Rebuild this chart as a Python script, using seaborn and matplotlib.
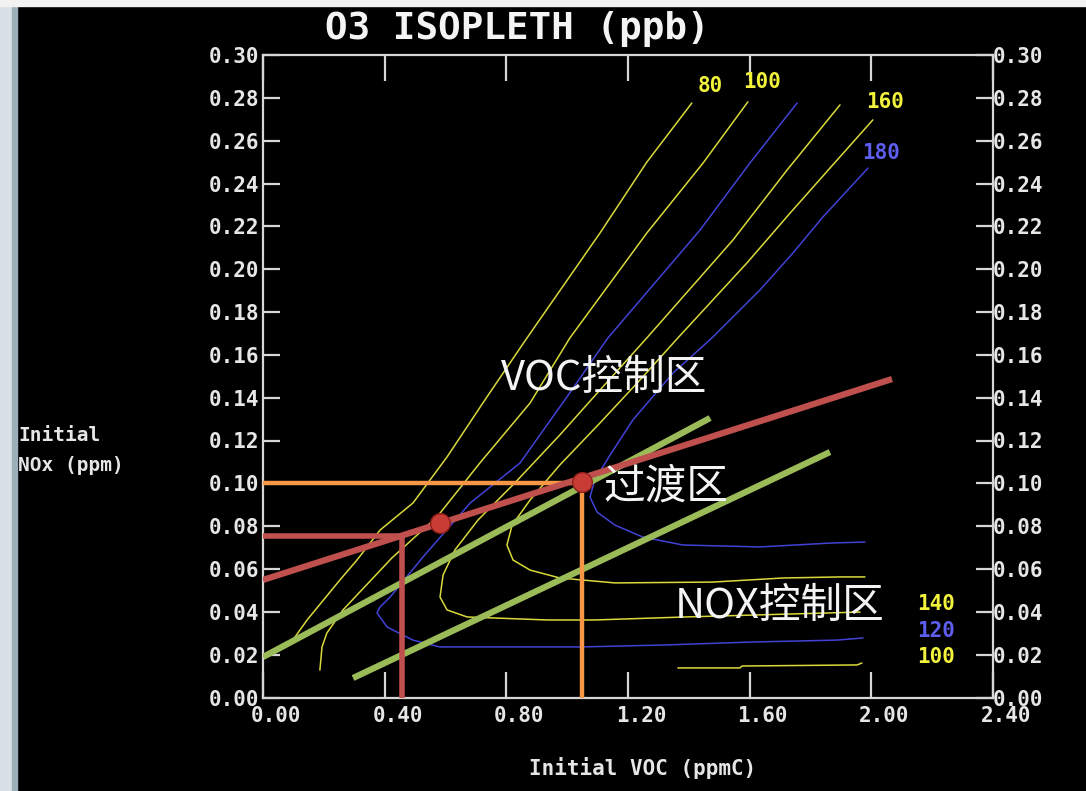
import matplotlib
matplotlib.use("Agg")
import matplotlib.pyplot as plt
import matplotlib.transforms as mtransforms
from matplotlib.patches import Rectangle
import numpy as np
import pandas as pd
import seaborn as sns

# isopleth traces: initial VOC (ppmC) vs initial NOx (ppm)
iso80_voc = [1.410, 1.262, 1.108, 0.868, 0.736, 0.605, 0.493, 0.385, 0.309, 0.253, 0.145, 0.105, 0.099]
iso80_nox = [0.2776, 0.2500, 0.2169, 0.1679, 0.1403, 0.1123, 0.0908, 0.0782, 0.0642, 0.0549, 0.0362, 0.0282, 0.0259]

iso100_voc = [1.594, 1.447, 1.262, 1.009, 0.878, 0.713, 0.572, 0.424, 0.263, 0.210, 0.194, 0.187]
iso100_nox = [0.2781, 0.2496, 0.2169, 0.1679, 0.1375, 0.1095, 0.0843, 0.0652, 0.0409, 0.0301, 0.0236, 0.0128]

iso100_low_voc = [1.364, 1.568, 1.575, 1.953, 1.969]
iso100_low_nox = [0.0138, 0.0138, 0.0147, 0.0152, 0.0161]

iso120_voc = [1.756, 1.601, 1.437, 1.134, 0.999, 0.845, 0.681, 0.526, 0.418, 0.385, 0.375, 0.408, 0.493,
              0.582, 1.042, 1.315, 1.608, 1.887, 1.973]
iso120_nox = [0.2776, 0.2496, 0.2183, 0.1679, 0.1403, 0.1095, 0.0908, 0.0656, 0.0469, 0.0423, 0.0395, 0.0329,
              0.0268, 0.0236, 0.0236, 0.0245, 0.0259, 0.0268, 0.0278]

iso140_voc = [1.897, 1.723, 1.545, 1.262, 1.108, 0.976, 0.828, 0.707, 0.631, 0.592, 0.582, 0.605, 0.671,
              0.934, 1.091, 1.387, 1.963]
iso140_nox = [0.2767, 0.2463, 0.2136, 0.1679, 0.1436, 0.1226, 0.1002, 0.0829, 0.0689, 0.0572, 0.0469, 0.0409,
              0.0376, 0.0362, 0.0362, 0.0376, 0.0399]

iso160_voc = [2.005, 1.864, 1.733, 1.591, 1.364, 1.239, 1.108, 0.976, 0.878, 0.819, 0.802, 0.822, 0.878,
              0.976, 1.157, 1.479, 1.710, 1.897, 1.979]
iso160_nox = [0.2697, 0.2472, 0.2262, 0.2029, 0.1679, 0.1482, 0.1282, 0.1086, 0.0922, 0.0805, 0.0712, 0.0642,
              0.0595, 0.0558, 0.0535, 0.0539, 0.0558, 0.0563, 0.0563]

iso180_voc = [1.989, 1.841, 1.742, 1.634, 1.476, 1.348, 1.216, 1.141, 1.091, 1.075, 1.098, 1.157, 1.249,
              1.381, 1.634, 1.864, 1.979]
iso180_nox = [0.2472, 0.2244, 0.2075, 0.1903, 0.1679, 0.1515, 0.1296, 0.1132, 0.1016, 0.0936, 0.0866, 0.0805,
              0.0749, 0.0712, 0.0703, 0.0721, 0.0726]

# contour labels
label_text = ["80", "100", "160", "180", "140", "120", "100"]
label_voc = [1.470, 1.641, 2.045, 2.032, 2.213, 2.213, 2.213]
label_nox = [0.2855, 0.2874, 0.2781, 0.2542, 0.0437, 0.0310, 0.0189]
label_kind = ["y", "y", "y", "b", "y", "b", "y"]

# annotation lines drawn over the isopleths
ridge_voc = [0.0, 2.068]
ridge_nox = [0.0549, 0.1487]
green1_voc = [0.0, 1.470]
green1_nox = [0.0189, 0.1305]
green2_voc = [0.296, 1.864]
green2_nox = [0.0091, 0.1146]
red_h_voc = [0.0, 0.457]
red_h_nox = [0.0754, 0.0754]
red_v_voc = [0.457, 0.457]
red_v_nox = [0.0, 0.0754]
orange_h_voc = [0.0, 1.049]
orange_h_nox = [0.1002, 0.1002]
orange_v_voc = [1.049, 1.049]
orange_v_nox = [0.0, 0.1002]
dot_voc = [0.582, 1.049]
dot_nox = [0.0815, 0.1006]

region_text = ["VOC控制区", "过渡区", "NOX控制区"]
region_voc = [1.123, 1.325, 1.700]
region_nox = [0.1492, 0.0983, 0.0423]

xticks = [0.0, 0.4, 0.8, 1.2, 1.6, 2.0, 2.4]
yticks = [0.00, 0.02, 0.04, 0.06, 0.08, 0.10, 0.12, 0.14, 0.16, 0.18, 0.20, 0.22, 0.24, 0.26, 0.28, 0.30]

sns.set_theme(style="ticks")
plt.rcParams['font.family'] = ['DejaVu Sans Mono', 'DejaVu Sans']
plt.rcParams['font.weight'] = 'bold'

YEL = '#D9D93A'
BLU = '#4242D6'
WHITE = '#E6E6E6'

fig = plt.figure(figsize=(10.86, 7.91), dpi=100, facecolor='black')
fig.patches.append(Rectangle((0, 0), 0.0125, 1, transform=fig.transFigure, color='#D8E0E6', zorder=0))
fig.patches.append(Rectangle((0.0115, 0), 0.0045, 1, transform=fig.transFigure, color='#9DAEBB', zorder=0))
fig.patches.append(Rectangle((0, 1 - 6 / 791), 1, 6 / 791, transform=fig.transFigure, color='#F2F2F2', zorder=0))

ax = fig.add_axes([263 / 1086, 93.5 / 791, 730 / 1086, 642.5 / 791])
ax.set_facecolor('black')

isopleths = [
    (iso80_voc, iso80_nox, YEL),
    (iso100_voc, iso100_nox, YEL),
    (iso100_low_voc, iso100_low_nox, YEL),
    (iso120_voc, iso120_nox, BLU),
    (iso140_voc, iso140_nox, YEL),
    (iso160_voc, iso160_nox, YEL),
    (iso180_voc, iso180_nox, BLU),
]
for vx, ny, col in isopleths:
    df = pd.DataFrame({'voc': vx, 'nox': ny})
    sns.lineplot(data=df, x='voc', y='nox', ax=ax, sort=False, estimator=None,
                 color=col, linewidth=1.1, zorder=2)

for t, vx, ny, k in zip(label_text, label_voc, label_nox, label_kind):
    ax.text(vx, ny, t, color='#F2F23C' if k == 'y' else '#5E5EF0', fontsize=15,
            fontweight='bold', ha='center', va='center', zorder=6)


def seg(xs, ys, color, lw, z):
    sns.lineplot(x=xs, y=ys, ax=ax, sort=False, estimator=None, color=color,
                 linewidth=lw, zorder=z, solid_capstyle='butt')


seg(green1_voc, green1_nox, '#9BBB59', 4.5, 3)
seg(green2_voc, green2_nox, '#9BBB59', 4.5, 3)
seg(orange_h_voc, orange_h_nox, '#F79646', 3.2, 3.5)
seg(orange_v_voc, orange_v_nox, '#F79646', 3.2, 3.5)
seg(ridge_voc, ridge_nox, '#C0504D', 4.5, 4)
seg(red_h_voc, red_h_nox, '#C0504D', 4.0, 4)
seg(red_v_voc, red_v_nox, '#C0504D', 4.0, 4)
sns.scatterplot(x=dot_voc, y=dot_nox, ax=ax, s=200, color='#C83C36', edgecolor='#8E1F1B',
                linewidth=1.0, zorder=5)

for t, vx, ny in zip(region_text, region_voc, region_nox):
    ax.text(vx, ny, t, family=['Noto Sans CJK SC', 'DejaVu Sans'], fontweight='normal',
            fontsize=30, color='#F4F4F4', ha='center', va='center', zorder=6)

ax.set_xlim(0, 2.4)
ax.set_ylim(0, 0.30)
ax.set_xticks(xticks)
ax.set_xticklabels([f'{v:.2f}' for v in xticks])
ax.set_yticks(yticks)
ax.set_yticklabels([f'{v:.2f}' for v in yticks])

for sp in ax.spines.values():
    sp.set_visible(True)
    sp.set_color('#D6D6D6')
    sp.set_linewidth(1.6)

ax.tick_params(axis='y', direction='in', length=12, width=1.6, color='#D6D6D6', labelcolor=WHITE,
               labelsize=15, left=True, right=True, labelleft=True, labelright=True, pad=3)
ax.tick_params(axis='x', direction='in', length=19, width=1.6, color='#D6D6D6', labelcolor=WHITE,
               labelsize=15, bottom=True, top=True, labeltop=False, pad=6)

shift_x = mtransforms.ScaledTranslation(0.13, 0, fig.dpi_scale_trans)
for lab in ax.get_xticklabels():
    lab.set_transform(lab.get_transform() + shift_x)
shift_r = mtransforms.ScaledTranslation(-0.04, 0, fig.dpi_scale_trans)
for tk in ax.yaxis.get_major_ticks():
    tk.label2.set_transform(tk.label2.get_transform() + shift_r)

ax.set_xlabel('Initial VOC (ppmC)', color=WHITE, fontsize=15, fontweight='bold')
ax.xaxis.set_label_coords(0.5205, -0.1097)
ax.xaxis.label.set_va('center')
ax.set_ylabel('Initial\nNOx (ppm)', color=WHITE, fontsize=14, fontweight='bold', rotation=0,
              ha='left', va='center', linespacing=1.75)
ax.yaxis.set_label_coords(-0.3356, 0.3844)

ax.text(0.348, 1.040, 'O3 ISOPLETH (ppb)', transform=ax.transAxes, color='#F4F4F4', fontsize=27,
        fontweight='bold', ha='center', va='center')

fig.savefig('out.png', dpi=100, facecolor=fig.get_facecolor())
